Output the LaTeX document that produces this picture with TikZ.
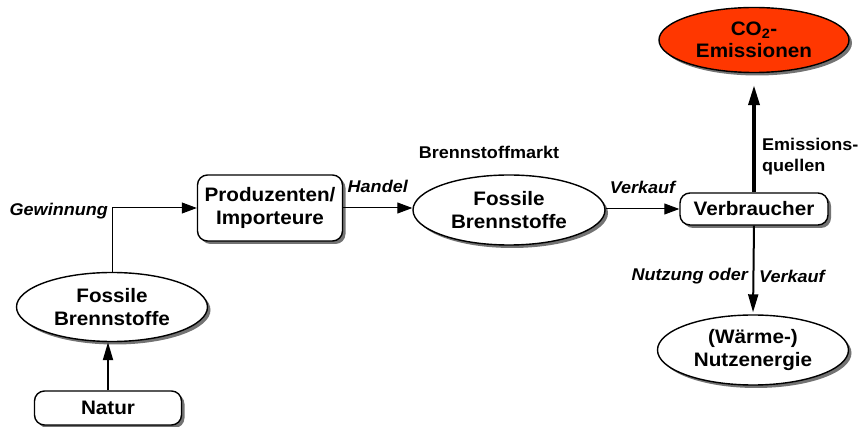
\documentclass[tikz,border=0pt]{standalone}
\usepackage{fontspec}
\setmainfont{Liberation Sans}[FakeStretch=1.06]
\usetikzlibrary{shapes.geometric,shadows,arrows.meta}
\definecolor{co2red}{RGB}{255,55,0}
\begin{document}
\begin{tikzpicture}[x=1pt,y=-1pt,
  nodefont/.style={font=\fontsize{19.5}{22.5}\selectfont\bfseries},
  shad/.style={drop shadow={shadow xshift=3pt,shadow yshift=-3pt,fill=black!55,opacity=1}},
  rbox/.style={draw,rounded corners=10pt,line width=1.4pt,fill=white,shad,align=center,nodefont,inner sep=0pt},
  ell/.style={draw,ellipse,line width=1.4pt,fill=white,shad,align=center,nodefont,inner sep=0pt},
  lab/.style={font=\fontsize{17}{19}\selectfont\bfseries\itshape,inner sep=0pt},
  txt/.style={font=\fontsize{17}{21}\selectfont\bfseries,inner sep=0pt,align=left},
  arr/.style={-{Triangle[length=15pt,width=11pt]},line width=1pt},
  arrm/.style={-{Triangle[length=18pt,width=10pt]},line width=2pt},
  arrt/.style={-{Triangle[length=20pt,width=11pt]},line width=3.5pt}
]
\useasboundingbox (0,0) rectangle (863,427);

\node[rbox,minimum width=147pt,minimum height=34pt] (natur) at (108,408) {Natur};
\node[ell,minimum width=191pt,minimum height=69pt] (fos1) at (112,307) {Fossile\\Brennstoffe};
\node[rbox,minimum width=145pt,minimum height=66pt] (prod) at (270,208) {Produzenten/\\Importeure};
\node[ell,minimum width=192pt,minimum height=70pt] (fos2) at (509,210) {Fossile\\Brennstoffe};
\node[rbox,minimum width=148pt,minimum height=32pt] (verb) at (754,209) {Verbraucher};
\node[ell,minimum width=190pt,minimum height=65pt,fill=co2red] (co2) at (754,40) {CO\textsubscript{2}-\\Emissionen};
\node[ell,minimum width=191pt,minimum height=70pt] (nutz) at (753,350) {(Wärme-)\\Nutzenergie};

\node[txt] (markt) at (489,152) {Brennstoffmarkt};

\draw[arrm] (natur.north) -- (natur.north |- fos1.south);
\coordinate (knick) at (fos1.north |- prod.west);
\draw[arr] (fos1.north) -- (knick) -- (prod.west);
\node[lab,anchor=east] (gew) at ([xshift=-4pt,yshift=-3pt]knick) {Gewinnung};

\draw[arr] (prod.east) -- (prod.east -| fos2.west) node[lab,midway,above=15pt] (handel) {Handel};
\draw[arr] (fos2.east |- verb.west) -- (verb.west) node[lab,midway,above=15pt] (verk1) {Verkauf};

\draw[arrt,shorten >=12pt] (verb.north) -- (co2.south);
\node[txt,anchor=west] (emi) at (762,157) {Emissions-\\quellen};

\draw[arrm,shorten >=2pt] (verb.south) -- (nutz.north);
\node[lab,anchor=east] (nutzung) at (748,276) {Nutzung oder};
\node[lab,anchor=west] (verk2) at (759,276) {Verkauf};
\end{tikzpicture}
\end{document}
